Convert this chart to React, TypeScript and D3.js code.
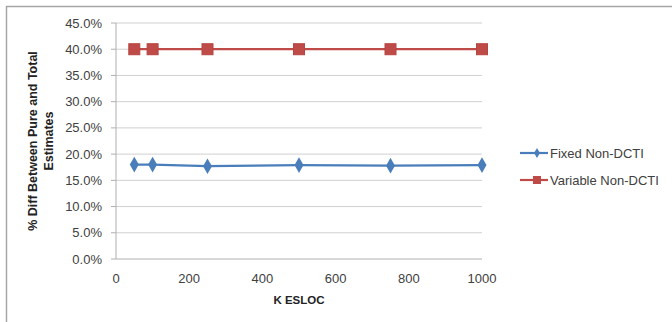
import React from "react";
import * as d3 from "d3";

const xValues = [50, 100, 250, 500, 750, 1000];
const fixedNonDCTI = [0.18, 0.18, 0.177, 0.179, 0.178, 0.179];
const variableNonDCTI = [0.4, 0.4, 0.4, 0.4, 0.4, 0.4];
const yTicks = [0, 0.05, 0.1, 0.15, 0.2, 0.25, 0.3, 0.35, 0.4, 0.45];
const xTicks = [0, 200, 400, 600, 800, 1000];
const seriesNames = ["Fixed Non-DCTI", "Variable Non-DCTI"];

const W = 672;
const H = 322;
const FONT = "'Liberation Sans', Arial, sans-serif";

export default function App() {
  const x = d3.scaleLinear().domain([0, 1000]).range([116, 482]);
  const y = d3.scaleLinear().domain([0, 0.45]).range([259, 23]);
  const line = d3
    .line<number>()
    .x((_, i) => x(xValues[i]))
    .y((d) => y(d));
  const fmt = d3.format(".1%");
  const blue = "#4a7ebb";
  const red = "#be4b48";
  const diamond = d3.symbol().type(d3.symbolDiamond).size(70)() as string;

  return (
    <svg
      width={W}
      height={H}
      style={{ position: "absolute", left: 0, top: 0 }}
      fontFamily={FONT}
    >
      <rect x={0} y={0} width={W} height={H} fill="#fff" />
      <line x1={6} y1={6.5} x2={W} y2={6.5} stroke="#a6a6a6" strokeWidth={1.5} />
      <line x1={6.5} y1={6} x2={6.5} y2={H} stroke="#a6a6a6" strokeWidth={1.5} />
      {yTicks.map((t) => (
        <g key={t}>
          {t > 0 && (
            <line x1={116} x2={482} y1={y(t)} y2={y(t)} stroke="#d0d0d0" strokeWidth={1} />
          )}
          <line x1={111} x2={116} y1={y(t)} y2={y(t)} stroke="#b0b0b0" />
          <text
            x={102}
            y={y(t)}
            dy="0.35em"
            textAnchor="end"
            fontSize={13}
            fill="#404040"
          >
            {fmt(t)}
          </text>
        </g>
      ))}
      <line x1={116} x2={116} y1={23} y2={259} stroke="#b0b0b0" />
      <line x1={116} x2={482} y1={259} y2={259} stroke="#b0b0b0" />
      {xTicks.map((t) => (
        <text
          key={t}
          x={x(t)}
          y={278}
          dy="0.35em"
          textAnchor="middle"
          fontSize={13}
          fill="#404040"
        >
          {t}
        </text>
      ))}
      <text x={299} y={300} dy="0.35em" textAnchor="middle" fontSize={11.5} fontWeight="bold" fill="#222">
        K ESLOC
      </text>
      <g transform="translate(33,141) rotate(-90)">
        <text x={0} y={0} dy="0.35em" textAnchor="middle" fontSize={12.5} fontWeight="bold" fill="#222">
          % Diff Between Pure and Total
        </text>
        <text x={0} y={16} dy="0.35em" textAnchor="middle" fontSize={12.5} fontWeight="bold" fill="#222">
          Estimates
        </text>
      </g>
      <path d={line(variableNonDCTI) || ""} fill="none" stroke={red} strokeWidth={2.2} />
      {variableNonDCTI.map((v, i) => (
        <rect key={i} x={x(xValues[i]) - 5.5} y={y(v) - 5.5} width={11} height={11} fill={red} stroke="#b84440" />
      ))}
      <path d={line(fixedNonDCTI) || ""} fill="none" stroke={blue} strokeWidth={2.2} />
      {fixedNonDCTI.map((v, i) => (
        <path key={i} d={diamond} transform={`translate(${x(xValues[i])},${y(v)})`} fill={blue} />
      ))}
      <g>
        <line x1={520} x2={548} y1={153} y2={153} stroke={blue} strokeWidth={2.2} />
        <path d={d3.symbol().type(d3.symbolDiamond).size(30)() as string} transform="translate(537,153)" fill={blue} />
        <text x={550} y={153} dy="0.35em" fontSize={13} fill="#404040">
          {seriesNames[0]}
        </text>
        <line x1={520} x2={548} y1={180} y2={180} stroke={red} strokeWidth={2.2} />
        <rect x={533} y={176} width={8} height={8} fill={red} />
        <text x={550} y={180} dy="0.35em" fontSize={13} fill="#404040">
          {seriesNames[1]}
        </text>
      </g>
    </svg>
  );
}
